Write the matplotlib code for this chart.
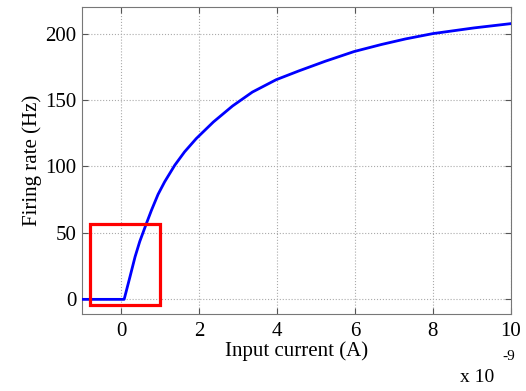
import matplotlib
matplotlib.use("Agg")
import matplotlib.pyplot as plt
from matplotlib.patches import Rectangle

# Input current in units of 1e-9 A, firing rate in Hz
current_nA = [-1.0, 0.08, 0.23, 0.36, 0.48, 0.65, 0.78, 0.95, 1.12, 1.38, 1.63,
              1.93, 2.37, 2.86, 3.37, 3.98, 4.56, 5.24, 5.98, 6.68, 7.3, 8.0,
              9.06, 10.0]
rate_hz = [0.0, 0.0, 17.0, 32.0, 43.5, 57.0, 67.0, 79.0, 88.5, 101.0, 111.0,
           121.0, 133.5, 145.5, 156.0, 165.3, 171.9, 179.2, 186.5, 191.8, 196.0,
           200.0, 204.3, 207.5]

x_ticks = [0, 2, 4, 6, 8, 10]
y_ticks = [0, 50, 100, 150, 200]
box_x = [-0.8, 1.0]
box_y = [-4.5, 57.0]

plt.rcParams['font.family'] = ['Liberation Serif', 'DejaVu Serif']

fig = plt.figure(figsize=(5.26, 3.91), dpi=100)
ax = fig.add_axes([0.156, 0.197, 0.815, 0.785])

ax.plot(current_nA, rate_hz, color='#0000ff', lw=2.0, zorder=3,
        solid_joinstyle='round')
ax.add_patch(Rectangle((box_x[0], box_y[0]), box_x[1] - box_x[0], box_y[1] - box_y[0],
                       fill=False, edgecolor='#ff0000', lw=2.3, zorder=4))

ax.set_xlim(-1, 10)
ax.set_ylim(-11, 220)
ax.set_xticks(x_ticks)
ax.set_yticks(y_ticks)
ax.grid(True, linestyle=':', color='#aaaaaa', lw=0.8)
ax.tick_params(direction='in', top=True, right=True, labelsize=15, length=4,
               color='#555555', pad=4)
ax.tick_params(axis='x', pad=6)
for s in ax.spines.values():
    s.set_color('#777777')
    s.set_linewidth(0.8)

ax.set_xlabel('Input current (A)', fontsize=15, labelpad=0)
ax.set_ylabel('Firing rate (Hz)', fontsize=15, labelpad=2)

fig.text(0.874, 0.012, 'x 10', fontsize=14, ha='left', va='bottom')
fig.text(0.955, 0.072, '-9', fontsize=11, ha='left', va='bottom')

fig.savefig('out.png', dpi=100)
